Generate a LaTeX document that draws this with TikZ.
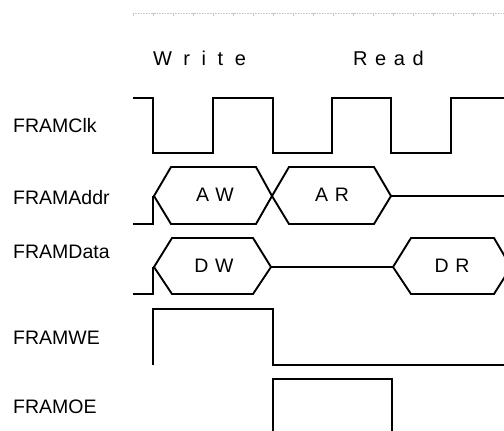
\documentclass[tikz,border=0pt]{standalone}
\usepackage{fontspec}
\setmainfont{Liberation Sans}
\newfontfamily\busfont[LetterSpace=35]{Liberation Sans}
\newfontfamily\writefont[LetterSpace=58]{Liberation Sans}
\newfontfamily\readfont[LetterSpace=38]{Liberation Sans}
\usepackage{tikz}

\begin{document}
\begin{tikzpicture}[x=1pt, y=-1pt,
    wave/.style={line width=1.9pt, line join=miter},
    signame/.style={anchor=west, inner sep=0pt, font=\fontsize{19.5}{19.5}\selectfont},
    buslabel/.style={inner sep=0pt, font=\busfont\fontsize{19.5}{19.5}\selectfont}]
    \clip (0,0) rectangle (504,431);

    % Ruler at the top
    \draw[gray!45, densely dotted, line width=0.6pt] (133,13) -- (504,13);
    \foreach \x in {133,153,...,504}
        \draw[gray!45, line width=0.6pt] (\x,13) -- (\x,16);

    % Phase titles
    \node[anchor=base west, inner sep=0pt, font=\writefont\fontsize{20}{20}\selectfont] (write) at (153,65) {Write};
    \node[anchor=base west, inner sep=0pt, font=\readfont\fontsize{20}{20}\selectfont] (read) at (353,65) {Read};

    % Signal names
    \node[signame] (clk) at (13,126) {FRAMClk};
    \node[signame] (addr) at (13,198) {FRAMAddr};
    \node[signame] (data) at (13,252) {FRAMData};
    \node[signame] (we) at (13,338) {FRAMWE};
    \node[signame] (oe) at (13,407) {FRAMOE};

    % Clock
    \draw[wave] (133,98) -- (153,98) -- (153,153) -- (213,153) -- (213,98) -- (273,98) -- (273,153)
        -- (332,153) -- (332,98) -- (391,98) -- (391,153) -- (451,153) -- (451,98) -- (510,98);

    % Address bus
    \draw[wave] (133,224) -- (153,224) -- (153,196);
    \draw[wave] (154,196) -- (171,167) -- (256,167) -- (272,196) -- (256,224) -- (171,224) -- cycle;
    \draw[wave] (272,196) -- (289,167) -- (374,167) -- (391,196) -- (374,224) -- (289,224) -- cycle;
    \draw[wave] (391,196) -- (510,196);
    \node[buslabel] (aw) at (215,195) {AW};
    \node[buslabel] (ar) at (332,195) {AR};

    % Data bus
    \draw[wave] (133,294) -- (153,294) -- (153,267);
    \draw[wave] (154,267) -- (172,238) -- (253,238) -- (271,267) -- (253,294) -- (172,294) -- cycle;
    \draw[wave] (271,267) -- (393,267);
    \draw[wave] (393,267) -- (411,238) -- (494,238) -- (511,267) -- (494,294) -- (411,294) -- cycle;
    \node[buslabel] (dw) at (214,266) {DW};
    \node[buslabel] (dr) at (452,266) {DR};

    % Write enable and output enable
    \draw[wave] (153,365) -- (153,309) -- (273,309) -- (273,365) -- (510,365);
    \draw[wave] (273,440) -- (273,379) -- (392,379) -- (392,440);
\end{tikzpicture}
\end{document}
